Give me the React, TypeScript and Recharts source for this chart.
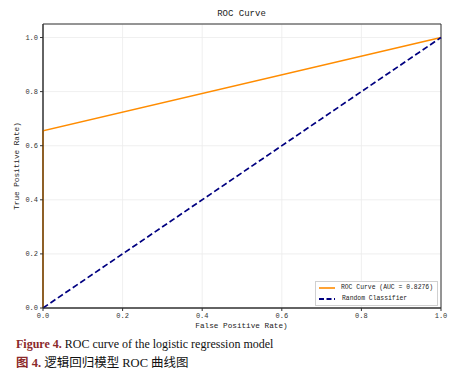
import { LineChart, Line, XAxis, YAxis, CartesianGrid, ReferenceArea } from 'recharts';

// ROC curve points
const rocFpr = [0, 0, 1];
const rocTpr = [0, 0.655, 1];
const randFpr = [0, 1];
const randTpr = [0, 1];
const axisTicks = [0, 0.2, 0.4, 0.6, 0.8, 1.0];

const rocData = rocFpr.map((x, i) => ({ fpr: x, tpr: rocTpr[i] }));
const randData = randFpr.map((x, i) => ({ fpr: x, tpr: randTpr[i] }));

const mono = '"Liberation Mono", "DejaVu Sans Mono", monospace';
const fmt = (v: number) => v.toFixed(1);

function LegendBox() {
  return (
    <div
      style={{
        position: 'absolute', left: 315, top: 281, width: 114,
        border: '1px solid #d0d0d0',
        background: '#fff',
        padding: '1px 4px 1px 3px',
        fontFamily: mono,
        fontSize: 6.4,
        color: '#222',
        lineHeight: '10.5px',
        whiteSpace: 'nowrap',
      }}
    >
      <div style={{ display: 'flex', alignItems: 'center' }}>
        <svg width={18} height={8} style={{ marginRight: 5 }}>
          <line x1={0} y1={4} x2={16} y2={4} stroke="#ff8c00" strokeWidth={1.6} />
        </svg>
        ROC Curve (AUC = 0.8276)
      </div>
      <div style={{ display: 'flex', alignItems: 'center' }}>
        <svg width={18} height={8} style={{ marginRight: 5 }}>
          <line x1={0} y1={4} x2={16} y2={4} stroke="#000080" strokeWidth={1.8} strokeDasharray="5 2.5" />
        </svg>
        Random Classifier
      </div>
    </div>
  );
}

export default function App() {
  return (
    <div style={{ position: 'absolute', left: 0, top: 0, width: 465, height: 373, background: '#fff' }}>
      <div
        style={{
          position: 'absolute', left: 43, width: 397, top: 9, textAlign: 'center',
          fontFamily: mono, fontSize: 9, color: '#222',
        }}
      >
        ROC Curve
      </div>
      <LineChart
        width={465}
        height={330}
        margin={{ top: 24, right: 24, bottom: 2, left: 23 }}
      >
        <CartesianGrid stroke="#ebebeb" strokeWidth={0.8} />
        <XAxis
          type="number"
          dataKey="fpr"
          domain={[0, 1]}
          ticks={axisTicks}
          tickFormatter={fmt}
          height={20}
          tickSize={3}
          tick={{ fontFamily: mono, fontSize: 7, fill: '#333' }}
          stroke="#333"
          allowDuplicatedCategory={false}
        />
        <YAxis
          type="number"
          dataKey="tpr"
          domain={[0, 1.05]}
          ticks={axisTicks}
          tickFormatter={fmt}
          width={20}
          tickSize={3}
          tick={{ fontFamily: mono, fontSize: 7, fill: '#333' }}
          stroke="#333"
        />
        <ReferenceArea x1={0} x2={1} y1={0} y2={1.05} fill="none" stroke="#333" strokeWidth={1} ifOverflow="visible" />
        <Line
          data={rocData}
          dataKey="tpr"
          type="linear"
          stroke="#ff8c00"
          strokeWidth={1.6}
          dot={false}
          isAnimationActive={false}
        />
        <Line
          data={randData}
          dataKey="tpr"
          type="linear"
          stroke="#000080"
          strokeWidth={1.7}
          strokeDasharray="6 3"
          dot={false}
          isAnimationActive={false}
        />
      </LineChart>
      <LegendBox />
      <div
        style={{
          position: 'absolute', left: 43, width: 397, top: 322, textAlign: 'center',
          fontFamily: mono, fontSize: 7.7, color: '#222',
        }}
      >
        False Positive Rate)
      </div>
      <div
        style={{
          position: 'absolute', left: 17, top: 166, width: 0, height: 0,
        }}
      >
        <div
          style={{
            position: 'absolute', transform: 'translate(-50%, -50%) rotate(-90deg)',
            whiteSpace: 'nowrap', fontFamily: mono, fontSize: 7.7, color: '#222',
          }}
        >
          True Positive Rate)
        </div>
      </div>
      <div
        style={{
          position: 'absolute', left: 16, top: 337, whiteSpace: 'nowrap',
          fontFamily: '"Liberation Serif", "Times New Roman", serif', fontSize: 12, color: '#111',
        }}
      >
        <span style={{ color: '#8b2a2a', fontWeight: 'bold' }}>Figure 4.</span> ROC curve of the logistic regression model
      </div>
      <div
        style={{
          position: 'absolute', left: 16, top: 352, whiteSpace: 'nowrap',
          fontFamily: '"Liberation Serif", "Noto Sans CJK SC", serif', fontSize: 12.5, color: '#111',
        }}
      >
        <span style={{ color: '#8b2a2a', fontWeight: 'bold' }}>
          <span style={{ fontFamily: '"Noto Sans CJK SC"' }}>图</span> 4.
        </span>{' '}
        <span style={{ fontFamily: '"Noto Sans CJK SC"' }}>逻辑回归模型</span> ROC{' '}
        <span style={{ fontFamily: '"Noto Sans CJK SC"' }}>曲线图</span>
      </div>
    </div>
  );
}
